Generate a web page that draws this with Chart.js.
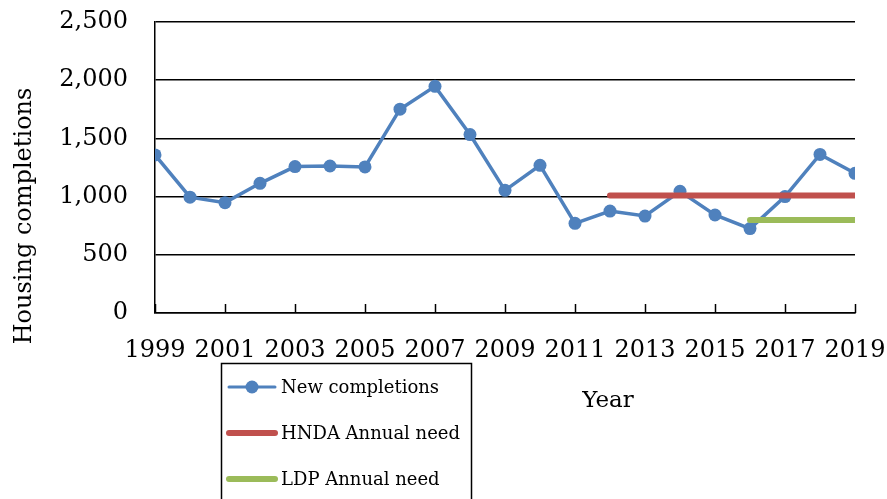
<!DOCTYPE html>
<html>
<head>
<meta charset="utf-8">
<script src="https://cdn.jsdelivr.net/npm/chart.js@4"></script>
<style>
  html, body { margin: 0; padding: 0; background: #fff; }
  #wrap { position: relative; width: 887px; height: 499px; }
</style>
</head>
<body>
<div id="wrap"><canvas id="c" width="887" height="499"></canvas></div>
<script>
const years = [1999,2000,2001,2002,2003,2004,2005,2006,2007,2008,2009,2010,2011,2012,2013,2014,2015,2016,2017,2018,2019];
const newCompletions = [1358,995,948,1114,1258,1263,1255,1751,1947,1533,1054,1269,770,876,833,1045,842,725,1000,1362,1200];
const hndaYears = [2012, 2019];
const hndaNeed = [1010, 1010];
const ldpYears = [2016, 2019];
const ldpNeed = [800, 800];
const yTicks = [0, 500, 1000, 1500, 2000, 2500];
const xTickYears = [1999,2001,2003,2005,2007,2009,2011,2013,2015,2017,2019];
const seriesNames = ['New completions', 'HNDA Annual need', 'LDP Annual need'];
const yTitle = 'Housing completions';
const xTitle = 'Year';

const FONT = '"DejaVu Serif", "Liberation Serif", serif';
const BLUE = '#4F81BD', RED = '#C0504D', GREEN = '#9BBB59';

const pts = (xs, ys) => xs.map((x, i) => ({x: x, y: ys[i]}));

const decor = {
  id: 'decor',
  afterDraw(chart) {
    const ctx = chart.ctx;
    const xs = chart.scales.x, ys = chart.scales.y;
    ctx.save();
    // inside tick marks on x axis
    ctx.strokeStyle = '#000';
    ctx.lineWidth = 1.5;
    xTickYears.forEach(v => {
      const px = Math.round(xs.getPixelForValue(v)) + 0.5;
      ctx.beginPath();
      ctx.moveTo(px, ys.getPixelForValue(0));
      ctx.lineTo(px, ys.getPixelForValue(0) - 9);
      ctx.stroke();
    });
    // axis titles
    ctx.fillStyle = '#000';
    ctx.font = '23px ' + FONT;
    ctx.textAlign = 'center';
    ctx.textBaseline = 'middle';
    ctx.fillText(xTitle, 608, 401);
    ctx.font = '24px ' + FONT;
    ctx.translate(25, 216);
    ctx.rotate(-Math.PI / 2);
    ctx.fillText(yTitle, 0, 0);
    ctx.restore();

    // legend box
    ctx.save();
    ctx.strokeStyle = '#000';
    ctx.lineWidth = 1.5;
    ctx.strokeRect(221.5, 363.5, 250, 150);
    const rows = [387, 433, 479];
    const cols = [BLUE, RED, GREEN];
    ctx.font = '18px ' + FONT;
    ctx.textAlign = 'left';
    ctx.textBaseline = 'middle';
    seriesNames.forEach((name, i) => {
      const y = rows[i];
      ctx.strokeStyle = cols[i];
      ctx.lineCap = 'round';
      ctx.lineWidth = i === 0 ? 3 : 6;
      ctx.beginPath();
      ctx.moveTo(229, y);
      ctx.lineTo(275, y);
      ctx.stroke();
      if (i === 0) {
        ctx.fillStyle = BLUE;
        ctx.beginPath();
        ctx.arc(252, y, 6.5, 0, Math.PI * 2);
        ctx.fill();
      }
      ctx.fillStyle = '#000';
      ctx.fillText(name, 281, y + 1);
    });
    ctx.restore();
  }
};

new Chart(document.getElementById('c'), {
  type: 'line',
  data: {
    datasets: [
      {
        label: seriesNames[0],
        data: pts(years, newCompletions),
        borderColor: BLUE,
        backgroundColor: BLUE,
        borderWidth: 3.5,
        pointRadius: 6.5,
        pointHoverRadius: 6.5,
        pointBorderWidth: 0,
        pointBackgroundColor: BLUE,
        tension: 0,
        order: 3
      },
      {
        label: seriesNames[1],
        data: pts(hndaYears, hndaNeed),
        borderColor: RED,
        backgroundColor: RED,
        borderWidth: 6,
        borderCapStyle: 'round',
        pointRadius: 0,
        tension: 0,
        order: 2
      },
      {
        label: seriesNames[2],
        data: pts(ldpYears, ldpNeed),
        borderColor: GREEN,
        backgroundColor: GREEN,
        borderWidth: 6,
        borderCapStyle: 'round',
        pointRadius: 0,
        tension: 0,
        order: 1
      }
    ]
  },
  options: {
    responsive: false,
    animation: false,
    devicePixelRatio: 1,
    layout: { padding: { top: 22, right: 32, left: 0, bottom: 0 } },
    plugins: {
      legend: { display: false },
      tooltip: { enabled: false },
      title: { display: false }
    },
    scales: {
      x: {
        type: 'linear',
        min: 1999,
        max: 2019,
        afterBuildTicks(scale) { scale.ticks = xTickYears.map(v => ({value: v})); },
        afterFit(scale) {
          scale.height = 186;
          scale.paddingLeft = 0; scale.paddingRight = 0;
          scale.paddingTop = 0; scale.paddingBottom = 0;
        },
        grid: { display: false, drawTicks: false },
        border: { display: true, color: '#000', width: 1.5 },
        ticks: {
          color: '#000',
          font: { family: FONT, size: 24 },
          padding: 23,
          maxRotation: 0,
          autoSkip: false,
          callback: v => String(v)
        }
      },
      y: {
        min: 0,
        max: 2500,
        afterBuildTicks(scale) { scale.ticks = yTicks.map(v => ({value: v})); },
        afterFit(scale) {
          scale.width = 155;
          scale.paddingLeft = 0; scale.paddingRight = 0;
          scale.paddingTop = 0; scale.paddingBottom = 0;
        },
        grid: { color: '#000', lineWidth: 1.5, drawTicks: false },
        border: { display: true, color: '#000', width: 1.5 },
        ticks: {
          color: '#000',
          font: { family: FONT, size: 24 },
          padding: 27,
          callback: v => v.toLocaleString('en-US')
        }
      }
    }
  },
  plugins: [decor]
});
</script>
</body>
</html>
